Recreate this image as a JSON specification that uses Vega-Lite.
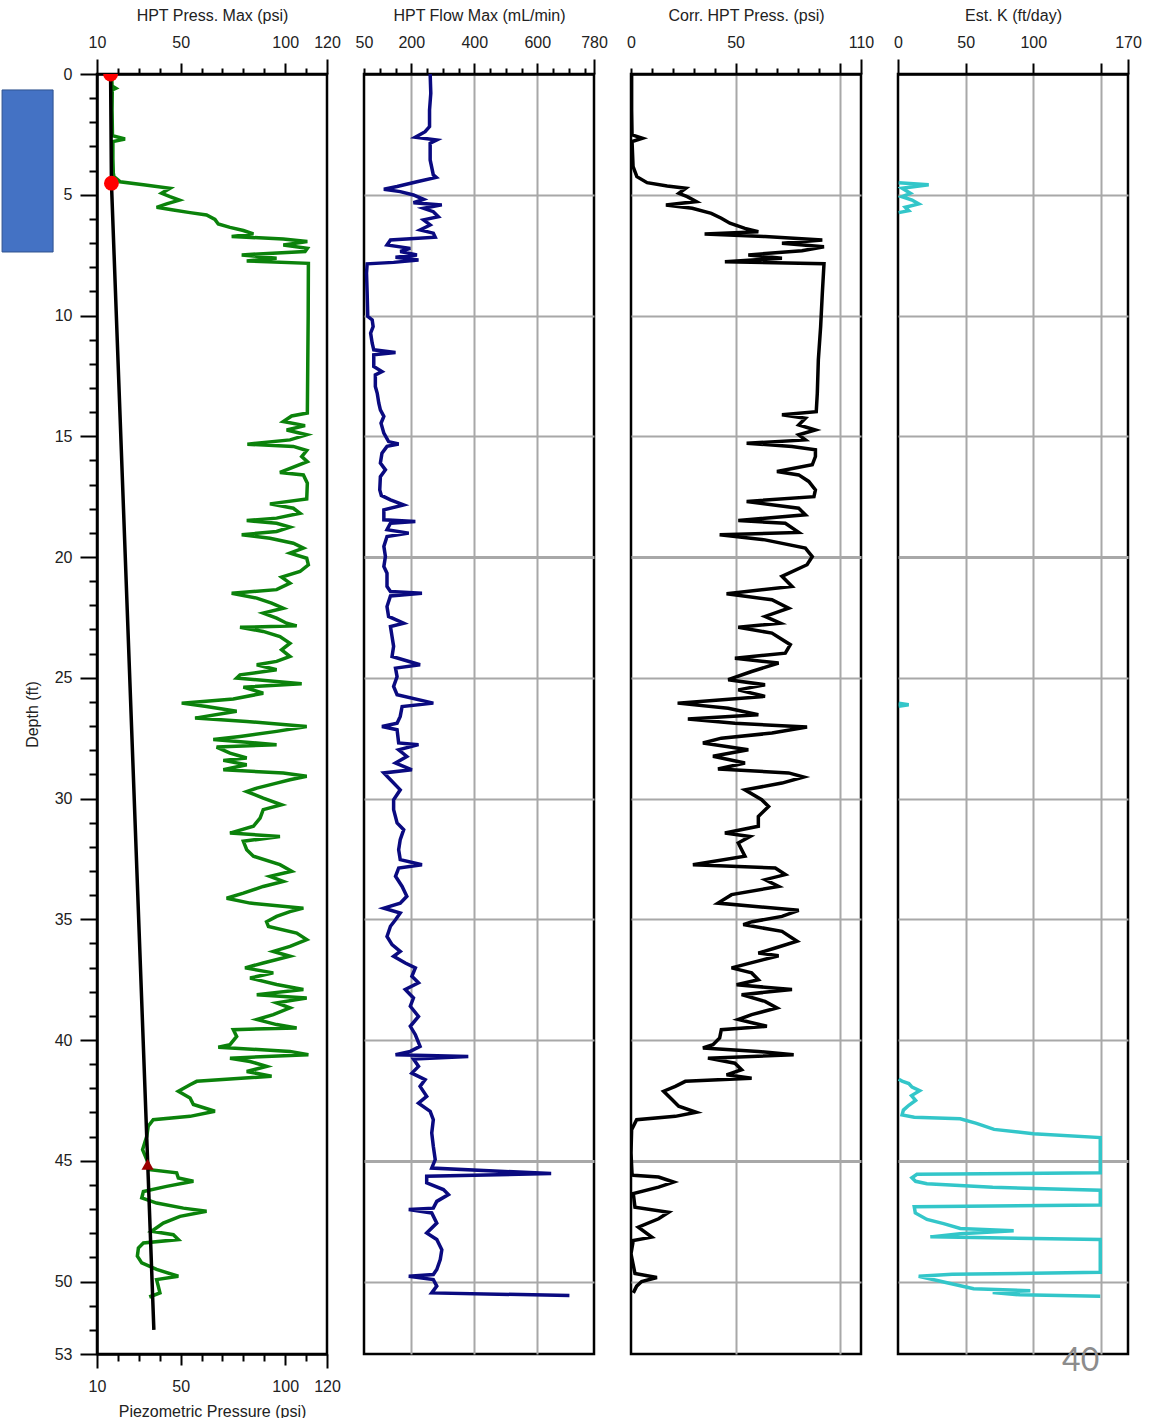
{
"$schema": "https://vega.github.io/schema/vega-lite/v6.json",
"padding": {"left": 0, "top": 5, "right": 5, "bottom": 5},
"spacing": 37,
"bounds": "flush",
"config": {
  "font": "Liberation Sans",
  "view": {"stroke": "#000", "strokeWidth": 2.5},
  "axis": {"domainColor": "#000", "domainWidth": 2.5, "tickColor": "#000", "tickWidth": 2, "labelFont": "Liberation Sans", "labelFontSize": 16, "labelColor": "#222", "titleFont": "Liberation Sans", "titleFontSize": 16, "titleFontWeight": "normal", "titleColor": "#222", "gridColor": "#a8a8a8", "gridWidth": 2, "labelOverlap": false, "labelFlush": false, "labelBound": false, "titlePadding": 11},
  "axisY": {"gridWidth": {"condition": {"test": "datum.value==20||datum.value==45", "value": 3}, "value": 2}}
},
"datasets": {
  "box": [{"x1": -35.4, "x2": -11, "d1": 0.66, "d2": 7.37}],
  "dots": [{"d": 0, "v": 16.5}, {"d": 4.52, "v": 16.9}],
  "tri": [{"d": 45.15, "v": 34.2}],
  "page": [{"d": 53.27, "v": 135, "t": "40"}],
  "piezo": [{"d": 0, "v": 16.5}, {"d": 4.5, "v": 16.9}, {"d": 52, "v": 37.2}],
  "hpt": [{"d":0,"v":17},{"d":0.5,"v":17.2},{"d":0.59,"v":19},{"d":0.66,"v":17.3},{"d":1.5,"v":17.2},{"d":2.55,"v":17.4},{"d":2.69,"v":23.4},{"d":2.8,"v":17.6},{"d":3.5,"v":17.6},{"d":4.1,"v":17.8},{"d":4.25,"v":18.1},{"d":4.46,"v":21},{"d":4.59,"v":32.2},{"d":4.73,"v":44.9},{"d":4.94,"v":40.9},{"d":5.08,"v":44.9},{"d":5.22,"v":49.4},{"d":5.38,"v":43.3},{"d":5.52,"v":38.5},{"d":5.63,"v":46.5},{"d":5.74,"v":54.5},{"d":5.84,"v":62.4},{"d":6.02,"v":66.4},{"d":6.21,"v":68},{"d":6.35,"v":73.6},{"d":6.48,"v":80},{"d":6.62,"v":84.8},{"d":6.73,"v":74.4},{"d":6.83,"v":99.1},{"d":6.94,"v":110.6},{"d":7.08,"v":99.1},{"d":7.22,"v":110.6},{"d":7.35,"v":109.5},{"d":7.49,"v":79.2},{"d":7.63,"v":95.9},{"d":7.74,"v":81.6},{"d":7.84,"v":111.1},{"d":10,"v":111},{"d":12,"v":110.8},{"d":14.04,"v":110.6},{"d":14.16,"v":103.1},{"d":14.39,"v":99.1},{"d":14.56,"v":109.5},{"d":14.74,"v":100.7},{"d":14.94,"v":110.3},{"d":15.15,"v":102.3},{"d":15.33,"v":81.9},{"d":15.42,"v":103.9},{"d":15.59,"v":110.3},{"d":15.84,"v":107.9},{"d":16.05,"v":110.6},{"d":16.5,"v":97.5},{"d":16.6,"v":108.7},{"d":16.94,"v":110.6},{"d":17.6,"v":110.3},{"d":17.8,"v":92.7},{"d":17.98,"v":103.9},{"d":18.19,"v":107.1},{"d":18.39,"v":95.9},{"d":18.49,"v":81.6},{"d":18.6,"v":95.9},{"d":18.76,"v":102.3},{"d":18.94,"v":95.9},{"d":19.08,"v":79.2},{"d":19.22,"v":92.7},{"d":19.43,"v":103.9},{"d":19.63,"v":108.7},{"d":19.84,"v":102.3},{"d":20.05,"v":110.3},{"d":20.32,"v":111.1},{"d":20.6,"v":107.1},{"d":20.83,"v":98.3},{"d":21.08,"v":102.3},{"d":21.35,"v":95.9},{"d":21.5,"v":74.4},{"d":21.7,"v":86.4},{"d":21.91,"v":93.5},{"d":22.12,"v":99.1},{"d":22.32,"v":89.5},{"d":22.53,"v":95.9},{"d":22.74,"v":100.7},{"d":22.85,"v":105.5},{"d":22.91,"v":78.4},{"d":23.08,"v":89.5},{"d":23.29,"v":97.5},{"d":23.57,"v":102.3},{"d":23.84,"v":98.3},{"d":24.12,"v":102.3},{"d":24.32,"v":95.9},{"d":24.46,"v":86.4},{"d":24.67,"v":95.9},{"d":24.88,"v":78.4},{"d":25.01,"v":76.8},{"d":25.25,"v":107.9},{"d":25.39,"v":80},{"d":25.64,"v":89.5},{"d":25.88,"v":75.2},{"d":26.05,"v":50.5},{"d":26.19,"v":62.4},{"d":26.39,"v":76.8},{"d":26.67,"v":56.9},{"d":26.81,"v":81.6},{"d":27.02,"v":110.3},{"d":27.22,"v":95.9},{"d":27.43,"v":78.4},{"d":27.56,"v":65.6},{"d":27.77,"v":95.9},{"d":27.87,"v":67.2},{"d":28.12,"v":73.6},{"d":28.32,"v":81.6},{"d":28.42,"v":70.4},{"d":28.6,"v":81.6},{"d":28.81,"v":70.4},{"d":28.94,"v":99.1},{"d":29.08,"v":110.3},{"d":29.22,"v":102.3},{"d":29.36,"v":95.9},{"d":29.57,"v":86.4},{"d":29.71,"v":81.6},{"d":29.98,"v":89.5},{"d":30.26,"v":98.3},{"d":30.46,"v":89.5},{"d":30.81,"v":88},{"d":31.15,"v":84.8},{"d":31.43,"v":73.6},{"d":31.57,"v":97.5},{"d":31.77,"v":80},{"d":32.12,"v":81.6},{"d":32.39,"v":84.8},{"d":32.74,"v":97.5},{"d":33.01,"v":103.1},{"d":33.22,"v":92.7},{"d":33.43,"v":99.1},{"d":33.64,"v":89.5},{"d":33.92,"v":80},{"d":34.13,"v":72},{"d":34.33,"v":83.2},{"d":34.54,"v":108.7},{"d":34.68,"v":102.3},{"d":34.88,"v":95.9},{"d":35.1,"v":91.1},{"d":35.3,"v":92},{"d":35.57,"v":105.5},{"d":35.84,"v":110.3},{"d":36.12,"v":102.3},{"d":36.33,"v":94.3},{"d":36.53,"v":102.3},{"d":36.81,"v":89.5},{"d":37.01,"v":80.8},{"d":37.22,"v":94.3},{"d":37.43,"v":83.2},{"d":37.7,"v":95.9},{"d":37.91,"v":108.7},{"d":38.12,"v":86.4},{"d":38.26,"v":110.3},{"d":38.46,"v":95.9},{"d":38.67,"v":102.3},{"d":38.95,"v":94.3},{"d":39.15,"v":86.4},{"d":39.36,"v":95.9},{"d":39.5,"v":105.5},{"d":39.57,"v":75.2},{"d":39.85,"v":76.8},{"d":40.19,"v":73.6},{"d":40.3,"v":68},{"d":40.47,"v":102.3},{"d":40.61,"v":111.1},{"d":40.75,"v":73.6},{"d":40.89,"v":83.2},{"d":41.09,"v":91.1},{"d":41.3,"v":81.6},{"d":41.5,"v":93.5},{"d":41.71,"v":57.7},{"d":41.85,"v":54.5},{"d":42.12,"v":48.9},{"d":42.4,"v":54.5},{"d":42.67,"v":56.1},{"d":42.95,"v":66.4},{"d":43.16,"v":54.5},{"d":43.3,"v":36.9},{"d":43.57,"v":34.5},{"d":43.99,"v":33.8},{"d":44.54,"v":31.8},{"d":44.95,"v":33.8},{"d":45.37,"v":35.3},{"d":45.5,"v":48.1},{"d":45.71,"v":48.9},{"d":45.85,"v":56.1},{"d":46.06,"v":43.3},{"d":46.27,"v":32.2},{"d":46.54,"v":31.4},{"d":46.75,"v":38.5},{"d":46.96,"v":51.3},{"d":47.09,"v":62.4},{"d":47.3,"v":49.7},{"d":47.58,"v":41.7},{"d":47.92,"v":36.1},{"d":48.06,"v":46.5},{"d":48.26,"v":48.9},{"d":48.4,"v":32.2},{"d":48.61,"v":29.8},{"d":48.95,"v":29.3},{"d":49.23,"v":31.4},{"d":49.5,"v":38.5},{"d":49.78,"v":48.9},{"d":49.92,"v":38.5},{"d":50.19,"v":39.3},{"d":50.47,"v":40.1},{"d":50.64,"v":35}],
  "flow": [{"d":0,"v":260},{"d":0.8,"v":262},{"d":1.49,"v":258},{"d":2.18,"v":258},{"d":2.39,"v":244},{"d":2.62,"v":213},{"d":2.73,"v":281},{"d":2.87,"v":260},{"d":3.56,"v":260},{"d":4.18,"v":270},{"d":4.28,"v":279},{"d":4.46,"v":218},{"d":4.66,"v":155},{"d":4.77,"v":113},{"d":4.87,"v":165},{"d":5.01,"v":207},{"d":5.19,"v":239},{"d":5.33,"v":207},{"d":5.42,"v":297},{"d":5.56,"v":239},{"d":5.7,"v":270},{"d":5.91,"v":286},{"d":6.04,"v":239},{"d":6.25,"v":260},{"d":6.46,"v":228},{"d":6.59,"v":270},{"d":6.76,"v":276},{"d":6.87,"v":134},{"d":7.08,"v":123},{"d":7.22,"v":197},{"d":7.35,"v":165},{"d":7.49,"v":218},{"d":7.59,"v":150},{"d":7.7,"v":223},{"d":7.8,"v":144},{"d":7.86,"v":60},{"d":8.25,"v":58},{"d":9.08,"v":60},{"d":10.04,"v":62},{"d":10.18,"v":76},{"d":10.46,"v":79},{"d":10.73,"v":71},{"d":11.15,"v":76},{"d":11.42,"v":81},{"d":11.53,"v":150},{"d":11.63,"v":81},{"d":12.11,"v":81},{"d":12.32,"v":107},{"d":12.46,"v":86},{"d":12.94,"v":86},{"d":13.22,"v":92},{"d":13.63,"v":97},{"d":13.91,"v":102},{"d":14.18,"v":113},{"d":14.46,"v":104},{"d":14.87,"v":113},{"d":15.22,"v":128},{"d":15.32,"v":160},{"d":15.42,"v":123},{"d":15.7,"v":107},{"d":16.11,"v":102},{"d":16.39,"v":118},{"d":16.67,"v":102},{"d":17.22,"v":100},{"d":17.45,"v":105},{"d":17.63,"v":134},{"d":17.84,"v":176},{"d":18.05,"v":113},{"d":18.46,"v":113},{"d":18.53,"v":213},{"d":18.6,"v":134},{"d":18.87,"v":123},{"d":19.01,"v":192},{"d":19.15,"v":123},{"d":19.56,"v":113},{"d":19.98,"v":118},{"d":20.39,"v":113},{"d":20.67,"v":123},{"d":21.22,"v":123},{"d":21.43,"v":134},{"d":21.5,"v":234},{"d":21.61,"v":134},{"d":22.05,"v":123},{"d":22.46,"v":128},{"d":22.74,"v":176},{"d":22.88,"v":134},{"d":23.29,"v":139},{"d":23.7,"v":144},{"d":24.12,"v":139},{"d":24.46,"v":228},{"d":24.6,"v":150},{"d":24.95,"v":155},{"d":25.36,"v":144},{"d":25.7,"v":155},{"d":26.05,"v":270},{"d":26.19,"v":171},{"d":26.6,"v":165},{"d":26.88,"v":155},{"d":27.02,"v":107},{"d":27.15,"v":155},{"d":27.7,"v":160},{"d":27.77,"v":223},{"d":27.98,"v":160},{"d":28.26,"v":186},{"d":28.53,"v":150},{"d":28.81,"v":202},{"d":28.94,"v":113},{"d":29.22,"v":134},{"d":29.64,"v":165},{"d":30.05,"v":144},{"d":30.46,"v":144},{"d":31.01,"v":155},{"d":31.29,"v":176},{"d":31.7,"v":165},{"d":32.12,"v":160},{"d":32.53,"v":165},{"d":32.74,"v":234},{"d":32.88,"v":160},{"d":33.22,"v":150},{"d":33.64,"v":171},{"d":34.05,"v":186},{"d":34.33,"v":165},{"d":34.54,"v":113},{"d":34.74,"v":165},{"d":35.02,"v":150},{"d":35.29,"v":134},{"d":35.71,"v":123},{"d":36.05,"v":139},{"d":36.33,"v":165},{"d":36.53,"v":144},{"d":36.81,"v":181},{"d":37.01,"v":213},{"d":37.36,"v":202},{"d":37.63,"v":223},{"d":37.91,"v":181},{"d":38.26,"v":207},{"d":38.6,"v":197},{"d":39.02,"v":223},{"d":39.43,"v":197},{"d":39.78,"v":213},{"d":40.26,"v":228},{"d":40.47,"v":197},{"d":40.61,"v":150},{"d":40.68,"v":381},{"d":40.79,"v":207},{"d":41.09,"v":223},{"d":41.37,"v":202},{"d":41.64,"v":244},{"d":41.92,"v":228},{"d":42.33,"v":249},{"d":42.61,"v":223},{"d":42.95,"v":260},{"d":43.3,"v":270},{"d":43.85,"v":265},{"d":44.4,"v":270},{"d":44.95,"v":276},{"d":45.3,"v":265},{"d":45.53,"v":644},{"d":45.64,"v":249},{"d":45.91,"v":249},{"d":46.19,"v":302},{"d":46.4,"v":318},{"d":46.68,"v":281},{"d":46.96,"v":270},{"d":47.02,"v":192},{"d":47.16,"v":265},{"d":47.58,"v":281},{"d":47.99,"v":249},{"d":48.26,"v":281},{"d":48.68,"v":297},{"d":49.09,"v":292},{"d":49.5,"v":281},{"d":49.71,"v":270},{"d":49.78,"v":192},{"d":49.92,"v":270},{"d":50.19,"v":281},{"d":50.47,"v":265},{"d":50.58,"v":702}],
  "corr": [{"d":0,"v":0.3},{"d":1.49,"v":0.3},{"d":2.52,"v":0.5},{"d":2.66,"v":5.5},{"d":2.8,"v":0.5},{"d":3.84,"v":1},{"d":4.25,"v":2.8},{"d":4.5,"v":7.7},{"d":4.64,"v":17.3},{"d":4.73,"v":26.2},{"d":4.94,"v":22.9},{"d":5.08,"v":26.9},{"d":5.28,"v":31.2},{"d":5.42,"v":16.7},{"d":5.56,"v":29.3},{"d":5.77,"v":38.4},{"d":5.97,"v":43.2},{"d":6.18,"v":47.3},{"d":6.39,"v":54.5},{"d":6.53,"v":60.9},{"d":6.62,"v":35.2},{"d":6.73,"v":64.1},{"d":6.87,"v":91.5},{"d":7.01,"v":72.2},{"d":7.15,"v":92.3},{"d":7.32,"v":81.8},{"d":7.49,"v":56.1},{"d":7.63,"v":72.2},{"d":7.77,"v":44.9},{"d":7.86,"v":92.3},{"d":9.08,"v":91.5},{"d":10.46,"v":90.7},{"d":11.84,"v":89.6},{"d":13.22,"v":89.1},{"d":13.98,"v":88.6},{"d":14.11,"v":72.2},{"d":14.25,"v":83.4},{"d":14.53,"v":80.2},{"d":14.74,"v":88.2},{"d":14.94,"v":80.2},{"d":15.15,"v":83.4},{"d":15.29,"v":55.3},{"d":15.42,"v":77},{"d":15.56,"v":88.2},{"d":15.84,"v":88.2},{"d":16.18,"v":86.7},{"d":16.46,"v":69.8},{"d":16.6,"v":80.2},{"d":16.87,"v":85},{"d":17.22,"v":88.2},{"d":17.5,"v":87.5},{"d":17.7,"v":55.3},{"d":17.98,"v":80.2},{"d":18.25,"v":83.4},{"d":18.49,"v":51.3},{"d":18.6,"v":73.8},{"d":18.98,"v":80.2},{"d":19.08,"v":42.4},{"d":19.29,"v":64.1},{"d":19.63,"v":83.4},{"d":19.98,"v":86.7},{"d":20.32,"v":84.2},{"d":20.8,"v":72.2},{"d":21.22,"v":77},{"d":21.52,"v":45.7},{"d":21.77,"v":67.4},{"d":22.12,"v":75.4},{"d":22.46,"v":64.1},{"d":22.74,"v":71.4},{"d":22.91,"v":51.3},{"d":23.15,"v":67.4},{"d":23.63,"v":76.2},{"d":23.98,"v":73.8},{"d":24.19,"v":49.7},{"d":24.39,"v":70.6},{"d":24.74,"v":57.7},{"d":25.08,"v":46.5},{"d":25.29,"v":64.1},{"d":25.5,"v":51.3},{"d":25.77,"v":64.1},{"d":26.05,"v":22.3},{"d":26.26,"v":46.5},{"d":26.53,"v":60.9},{"d":26.71,"v":27.2},{"d":26.88,"v":49.7},{"d":27.04,"v":84.2},{"d":27.29,"v":67.4},{"d":27.5,"v":43.2},{"d":27.7,"v":34.4},{"d":27.98,"v":56.1},{"d":28.25,"v":39.2},{"d":28.53,"v":54.5},{"d":28.78,"v":41.6},{"d":28.94,"v":75.4},{"d":29.11,"v":82.6},{"d":29.36,"v":72.2},{"d":29.64,"v":54.5},{"d":30.05,"v":62.5},{"d":30.33,"v":65.8},{"d":30.74,"v":60.9},{"d":31.15,"v":60.9},{"d":31.43,"v":44.9},{"d":31.57,"v":56.9},{"d":31.84,"v":51.3},{"d":32.39,"v":54.5},{"d":32.74,"v":29.6},{"d":32.88,"v":69},{"d":33.15,"v":73.8},{"d":33.36,"v":64.1},{"d":33.64,"v":70.6},{"d":33.98,"v":48.1},{"d":34.33,"v":41.6},{"d":34.63,"v":80.2},{"d":34.88,"v":72.2},{"d":35.1,"v":58},{"d":35.22,"v":53.7},{"d":35.5,"v":72.2},{"d":35.91,"v":79.4},{"d":36.19,"v":69},{"d":36.4,"v":60.9},{"d":36.51,"v":70.6},{"d":37.01,"v":48.1},{"d":37.22,"v":57.7},{"d":37.5,"v":60.9},{"d":37.71,"v":50.5},{"d":37.91,"v":77},{"d":38.12,"v":52.9},{"d":38.4,"v":64.1},{"d":38.67,"v":69.8},{"d":38.95,"v":57.7},{"d":39.15,"v":51.3},{"d":39.43,"v":65},{"d":39.57,"v":43.2},{"d":39.91,"v":42.4},{"d":40.19,"v":39.2},{"d":40.33,"v":34.4},{"d":40.47,"v":60.9},{"d":40.61,"v":77.8},{"d":40.75,"v":36.8},{"d":40.96,"v":49.7},{"d":41.23,"v":52.9},{"d":41.44,"v":45.7},{"d":41.58,"v":57.7},{"d":41.71,"v":26},{"d":41.92,"v":21.2},{"d":42.12,"v":15.6},{"d":42.46,"v":19.6},{"d":42.74,"v":22.8},{"d":42.99,"v":31.2},{"d":43.16,"v":21.2},{"d":43.3,"v":2.7},{"d":43.71,"v":0.3},{"d":44.68,"v":0},{"d":45.55,"v":0.5},{"d":45.6,"v":1.1},{"d":45.67,"v":13.2},{"d":45.88,"v":20.4},{"d":46.09,"v":13.2},{"d":46.36,"v":1.1},{"d":46.92,"v":1.9},{"d":47.13,"v":18},{"d":47.4,"v":13.2},{"d":47.75,"v":3.5},{"d":48.16,"v":9.9},{"d":48.3,"v":1.1},{"d":48.85,"v":0},{"d":49.67,"v":1.9},{"d":49.83,"v":12.4},{"d":50,"v":5.1},{"d":50.19,"v":2.7},{"d":50.47,"v":1.1}],
  "estk": [{"s":1,"d":4.5,"v":0.5},{"s":1,"d":4.59,"v":22.7},{"s":1,"d":4.73,"v":3},{"s":1,"d":4.94,"v":9.1},{"s":1,"d":5.08,"v":3},{"s":1,"d":5.22,"v":10.4},{"s":1,"d":5.38,"v":15.3},{"s":1,"d":5.52,"v":5.4},{"s":1,"d":5.66,"v":7.9},{"s":1,"d":5.74,"v":0.5},{"s":2,"d":26.05,"v":0.5},{"s":2,"d":26.12,"v":7.9},{"s":2,"d":26.18,"v":0.5},{"s":3,"d":41.62,"v":0.5},{"s":3,"d":41.7,"v":3},{"s":3,"d":41.8,"v":8},{"s":3,"d":41.95,"v":10.4},{"s":3,"d":42.1,"v":16},{"s":3,"d":42.3,"v":10},{"s":3,"d":42.5,"v":13},{"s":3,"d":42.7,"v":8},{"s":3,"d":42.9,"v":4},{"s":3,"d":43.1,"v":3},{"s":3,"d":43.2,"v":12},{"s":3,"d":43.26,"v":46},{"s":3,"d":43.45,"v":58},{"s":3,"d":43.7,"v":71},{"s":3,"d":43.88,"v":100},{"s":3,"d":44.04,"v":149.5},{"s":3,"d":45.5,"v":149.5},{"s":3,"d":45.56,"v":14},{"s":3,"d":45.7,"v":10.3},{"s":3,"d":45.85,"v":13},{"s":3,"d":45.95,"v":21.4},{"s":3,"d":46.1,"v":70},{"s":3,"d":46.22,"v":149.5},{"s":3,"d":46.83,"v":149.5},{"s":3,"d":46.9,"v":12},{"s":3,"d":47.16,"v":12.8},{"s":3,"d":47.43,"v":21.4},{"s":3,"d":47.6,"v":33.7},{"s":3,"d":47.8,"v":46},{"s":3,"d":47.9,"v":85.5},{"s":3,"d":48.02,"v":46},{"s":3,"d":48.15,"v":23.9},{"s":3,"d":48.26,"v":149.5},{"s":3,"d":49.62,"v":149.5},{"s":3,"d":49.7,"v":40},{"s":3,"d":49.78,"v":15.3},{"s":3,"d":50.05,"v":36.2},{"s":3,"d":50.3,"v":55.9},{"s":3,"d":50.38,"v":97.8},{"s":3,"d":50.45,"v":70},{"s":3,"d":50.55,"v":90},{"s":3,"d":50.61,"v":149.5}]
},
"hconcat": [
  {
    "width": 230, "height": 1280,
    "resolve": {"axis": {"x": "independent", "y": "independent"}},
    "layer": [
      {
        "data": {"name": "box"},
        "mark": {"type": "rect", "fill": "#4472c4", "stroke": "#2f528f", "strokeWidth": 1},
        "encoding": {
          "x": {"field": "x1", "type": "quantitative", "scale": {"domain": [10, 120], "nice": false, "zero": false}, "axis": null},
          "x2": {"field": "x2"},
          "y": {"field": "d1", "type": "quantitative", "scale": {"domain": [0, 53], "nice": false, "zero": false, "reverse": true}, "axis": null},
          "y2": {"field": "d2"}
        }
      },
      {
        "data": {"name": "hpt"},
        "mark": {"type": "line", "color": "#0b820b", "strokeWidth": 3.5, "clip": true},
        "encoding": {
          "x": {"field": "v", "type": "quantitative", "scale": {"domain": [10, 120], "nice": false, "zero": false},
            "axis": {"orient": "top", "title": "HPT Press. Max (psi)", "values": [10,20,30,40,50,60,70,80,90,100,110,120],
              "labelExpr": "indexof([10,50,100,120], datum.value) >= 0 ? datum.label : ''",
              "tickSize": {"condition": [{"test": "datum.value==10||datum.value==120", "value": 15}, {"test": "datum.value==50||datum.value==100", "value": 11}], "value": 6},
              "labelPadding": {"condition": {"test": "datum.value==10||datum.value==120", "value": 9}, "value": 13},
              "gridOpacity": {"condition": {"test": "datum.value==50||datum.value==100", "value": 1}, "value": 0}}},
          "y": {"field": "d", "type": "quantitative", "scale": {"domain": [0, 53], "nice": false, "zero": false, "reverse": true},
            "axis": {"orient": "left", "title": "Depth (ft)", "values": [0,1,2,3,4,5,6,7,8,9,10,11,12,13,14,15,16,17,18,19,20,21,22,23,24,25,26,27,28,29,30,31,32,33,34,35,36,37,38,39,40,41,42,43,44,45,46,47,48,49,50,51,52,53],
              "labelExpr": "datum.value%5==0||datum.value==53 ? datum.label : ''",
              "tickSize": {"condition": {"test": "datum.value%5==0||datum.value==53", "value": 17}, "value": 8},
              "labelPadding": 8, "titlePadding": 14,
              "gridOpacity": {"condition": {"test": "datum.value%5==0&&datum.value>0&&datum.value<53", "value": 1}, "value": 0}}},
          "order": {"field": "d", "type": "quantitative"}
        }
      },
      {
        "data": {"name": "piezo"},
        "mark": {"type": "line", "color": "#000000", "strokeWidth": 3.5},
        "encoding": {
          "x": {"field": "v", "type": "quantitative", "scale": {"domain": [10, 120], "nice": false, "zero": false},
            "axis": {"orient": "bottom", "title": "Piezometric Pressure (psi)", "grid": false, "titlePadding": 9, "values": [10,20,30,40,50,60,70,80,90,100,110,120],
              "labelExpr": "indexof([10,50,100,120], datum.value) >= 0 ? datum.label : ''",
              "tickSize": {"condition": [{"test": "datum.value==10||datum.value==120", "value": 14}, {"test": "datum.value==50||datum.value==100", "value": 11}], "value": 7},
              "labelPadding": {"condition": {"test": "datum.value==10||datum.value==120", "value": 10}, "value": 13}}},
          "y": {"field": "d", "type": "quantitative", "scale": {"domain": [0, 53], "nice": false, "zero": false, "reverse": true}, "axis": null},
          "order": {"field": "d", "type": "quantitative"}
        }
      },
      {
        "data": {"name": "dots"},
        "mark": {"type": "point", "filled": true, "color": "#ff0000", "opacity": 1, "size": 220, "clip": true},
        "encoding": {
          "x": {"field": "v", "type": "quantitative", "scale": {"domain": [10, 120], "nice": false, "zero": false}, "axis": null},
          "y": {"field": "d", "type": "quantitative", "scale": {"domain": [0, 53], "nice": false, "zero": false, "reverse": true}, "axis": null}
        }
      },
      {
        "data": {"name": "tri"},
        "mark": {"type": "point", "shape": "triangle-up", "filled": true, "color": "#990000", "opacity": 1, "size": 150},
        "encoding": {
          "x": {"field": "v", "type": "quantitative", "scale": {"domain": [10, 120], "nice": false, "zero": false}, "axis": null},
          "y": {"field": "d", "type": "quantitative", "scale": {"domain": [0, 53], "nice": false, "zero": false, "reverse": true}, "axis": null}
        }
      }
    ]
  },
  {
    "width": 230, "height": 1280,
    "data": {"name": "flow"},
    "mark": {"type": "line", "color": "#0a0a80", "strokeWidth": 3.5, "clip": true},
    "encoding": {
      "x": {"field": "v", "type": "quantitative", "scale": {"domain": [50, 780], "nice": false, "zero": false},
        "axis": {"orient": "top", "title": "HPT Flow Max (mL/min)", "values": [50,100,150,200,250,300,350,400,450,500,550,600,650,700,750,780],
          "labelExpr": "indexof([50,200,400,600,780], datum.value) >= 0 ? datum.label : ''",
          "tickSize": {"condition": [{"test": "datum.value==780", "value": 15}, {"test": "datum.value==200||datum.value==400||datum.value==600", "value": 11}], "value": 6},
          "labelPadding": {"condition": [{"test": "datum.value==780", "value": 9}, {"test": "datum.value==50", "value": 18}], "value": 13},
          "gridOpacity": {"condition": {"test": "datum.value==200||datum.value==400||datum.value==600", "value": 1}, "value": 0}}},
      "y": {"field": "d", "type": "quantitative", "scale": {"domain": [0, 53], "nice": false, "zero": false, "reverse": true},
        "axis": {"title": null, "values": [5,10,15,20,25,30,35,40,45,50], "labels": false, "ticks": false, "domain": false}},
      "order": {"field": "d", "type": "quantitative"}
    }
  },
  {
    "width": 230, "height": 1280,
    "data": {"name": "corr"},
    "mark": {"type": "line", "color": "#000000", "strokeWidth": 3.5, "clip": true},
    "encoding": {
      "x": {"field": "v", "type": "quantitative", "scale": {"domain": [0, 110], "nice": false, "zero": false},
        "axis": {"orient": "top", "title": "Corr. HPT Press. (psi)", "values": [0,10,20,30,40,50,60,70,80,90,100,110],
          "labelExpr": "indexof([0,50,110], datum.value) >= 0 ? datum.label : ''",
          "tickSize": {"condition": [{"test": "datum.value==110", "value": 15}, {"test": "datum.value==50||datum.value==100", "value": 11}], "value": 6},
          "labelPadding": {"condition": [{"test": "datum.value==110", "value": 9}, {"test": "datum.value==0", "value": 18}], "value": 13},
          "gridOpacity": {"condition": {"test": "datum.value==50||datum.value==100", "value": 1}, "value": 0}}},
      "y": {"field": "d", "type": "quantitative", "scale": {"domain": [0, 53], "nice": false, "zero": false, "reverse": true},
        "axis": {"title": null, "values": [5,10,15,20,25,30,35,40,45,50], "labels": false, "ticks": false, "domain": false}},
      "order": {"field": "d", "type": "quantitative"}
    }
  },
  {
    "width": 230, "height": 1280,
    "resolve": {"axis": {"x": "independent", "y": "independent"}},
    "layer": [
      {
        "data": {"name": "estk"},
        "mark": {"type": "line", "color": "#33c6c9", "strokeWidth": 3.5, "clip": true},
        "encoding": {
          "x": {"field": "v", "type": "quantitative", "scale": {"domain": [0, 170], "nice": false, "zero": false},
            "axis": {"orient": "top", "title": "Est. K (ft/day)", "values": [0,50,100,150,170],
              "labelExpr": "indexof([0,50,100,170], datum.value) >= 0 ? datum.label : ''",
              "tickSize": {"condition": [{"test": "datum.value==0||datum.value==170", "value": 15}], "value": 11},
              "labelPadding": {"condition": {"test": "datum.value==0||datum.value==170", "value": 9}, "value": 13},
              "gridOpacity": {"condition": {"test": "datum.value==50||datum.value==100||datum.value==150", "value": 1}, "value": 0}}},
          "y": {"field": "d", "type": "quantitative", "scale": {"domain": [0, 53], "nice": false, "zero": false, "reverse": true},
            "axis": {"orient": "left", "title": null, "values": [5,10,15,20,25,30,35,40,45,50], "labels": false, "ticks": false, "domain": false}},
          "detail": {"field": "s", "type": "nominal"},
          "order": {"field": "d", "type": "quantitative"}
        }
      },
      {
        "data": {"name": "page"},
        "mark": {"type": "text", "font": "Lato", "fontSize": 32, "color": "#8c8c8c", "baseline": "middle", "align": "center"},
        "encoding": {
          "x": {"field": "v", "type": "quantitative", "scale": {"domain": [0, 170], "nice": false, "zero": false}, "axis": null},
          "y": {"field": "d", "type": "quantitative", "scale": {"domain": [0, 53], "nice": false, "zero": false, "reverse": true}, "axis": null},
          "text": {"field": "t"}
        }
      }
    ]
  }
]
}
